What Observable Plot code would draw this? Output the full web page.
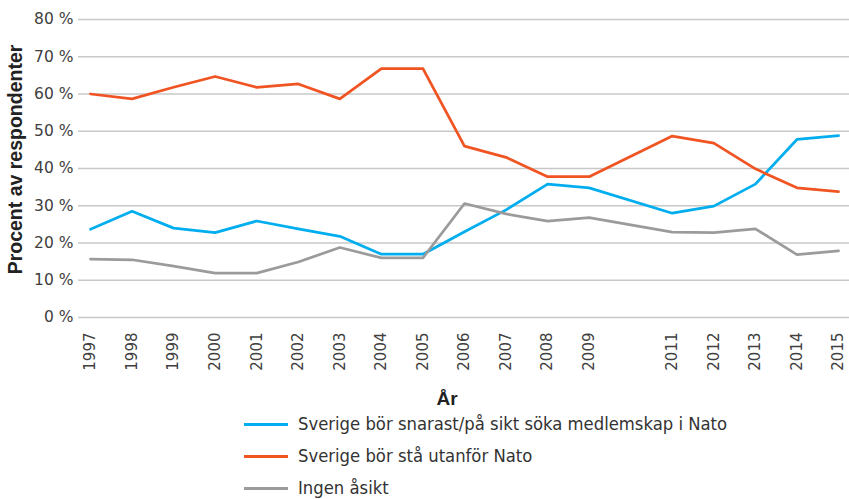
<!DOCTYPE html>
<html>
<head>
<meta charset="utf-8">
<script src="https://cdn.jsdelivr.net/npm/d3@7"></script>
<script src="https://cdn.jsdelivr.net/npm/@observablehq/plot@0.6"></script>
<style>
  html, body { margin: 0; padding: 0; background: #fff; }
  #wrap { position: relative; width: 849px; height: 499px; overflow: hidden; }
  #legend { position: absolute; left: 244px; top: 408px; font-family: "DejaVu Sans Condensed", "DejaVu Sans", sans-serif; font-stretch: condensed; font-size: 18.3px; line-height: 20px; color: #333; }
  .row { display: flex; align-items: center; height: 32px; }
  .sw { width: 44px; height: 3px; margin-right: 10px; }
</style>
</head>
<body>
<div id="wrap">
  <div id="chart"></div>
  <div id="legend"></div>
</div>
<script>
const years = [1997, 1998, 1999, 2000, 2001, 2002, 2003, 2004, 2005, 2006, 2007, 2008, 2009, 2011, 2012, 2013, 2014, 2015];
const medlemskap = [23.7, 28.5, 24.0, 22.8, 25.9, 23.8, 21.8, 17.0, 17.0, 23.0, 28.9, 35.8, 34.8, 28.0, 29.9, 35.8, 47.8, 48.8];
const utanfor    = [60.0, 58.7, 61.8, 64.7, 61.8, 62.7, 58.7, 66.8, 66.8, 46.0, 43.0, 37.8, 37.8, 48.7, 46.8, 39.9, 34.8, 33.8];
const ingen      = [15.7, 15.5, 13.8, 11.9, 11.9, 14.9, 18.8, 16.0, 16.0, 30.6, 27.8, 25.9, 26.8, 22.9, 22.8, 23.8, 16.9, 17.9];
const yTicks = [0, 10, 20, 30, 40, 50, 60, 70, 80];
const seriesNames = ["Sverige bör snarast/på sikt söka medlemskap i Nato", "Sverige bör stå utanför Nato", "Ingen åsikt"];
const seriesColors = ["#00aeef", "#f05423", "#9b9b9b"];
const seriesValues = [medlemskap, utanfor, ingen];
const xTitle = "År";
const yTitle = "Procent av respondenter";

const lineMarks = seriesValues.map((vals, k) =>
  Plot.line(vals, {x: (d, i) => years[i], y: d => d, stroke: seriesColors[k], strokeWidth: 2.75, strokeLinejoin: "round"})
);

const chart = Plot.plot({
  width: 849,
  height: 407,
  marginLeft: 78,
  marginRight: 0,
  marginTop: 19,
  marginBottom: 90,
  style: {fontFamily: "DejaVu Sans, sans-serif", background: "#fff"},
  x: {domain: [1997, 2015], insetLeft: 12, insetRight: 11},
  y: {domain: [0, 80]},
  marks: [
    Plot.ruleY(yTicks, {stroke: "#c8c8c8", strokeWidth: 1.3}),
    ...lineMarks,
    Plot.axisX({ticks: years, tickFormat: d => String(d), tickRotate: -90, tickSize: 0, tickPadding: 15, fontSize: 15, color: "#404040", label: null}),
    Plot.axisY({ticks: yTicks, tickFormat: d => d + " %", tickSize: 0, tickPadding: 5, fontSize: 15.5, color: "#404040", label: null}),
    Plot.text([xTitle], {frameAnchor: "bottom", dx: -17, dy: 87, lineAnchor: "bottom", textAnchor: "middle", fontWeight: "bold", fontSize: 19, fill: "#222", fontFamily: "Liberation Sans, sans-serif"}),
    Plot.text([yTitle], {frameAnchor: "left", rotate: -90, dx: -63, dy: -9, lineAnchor: "middle", textAnchor: "middle", fontWeight: "bold", fontSize: 19.5, fill: "#222", fontFamily: "Liberation Sans, sans-serif"})
  ]
});
document.getElementById("chart").append(chart);

const legend = document.getElementById("legend");
seriesNames.forEach((name, k) => {
  const row = document.createElement("div");
  row.className = "row";
  const sw = document.createElement("div");
  sw.className = "sw";
  sw.style.background = seriesColors[k];
  const label = document.createElement("span");
  label.textContent = name;
  row.append(sw, label);
  legend.append(row);
});
</script>
</body>
</html>
